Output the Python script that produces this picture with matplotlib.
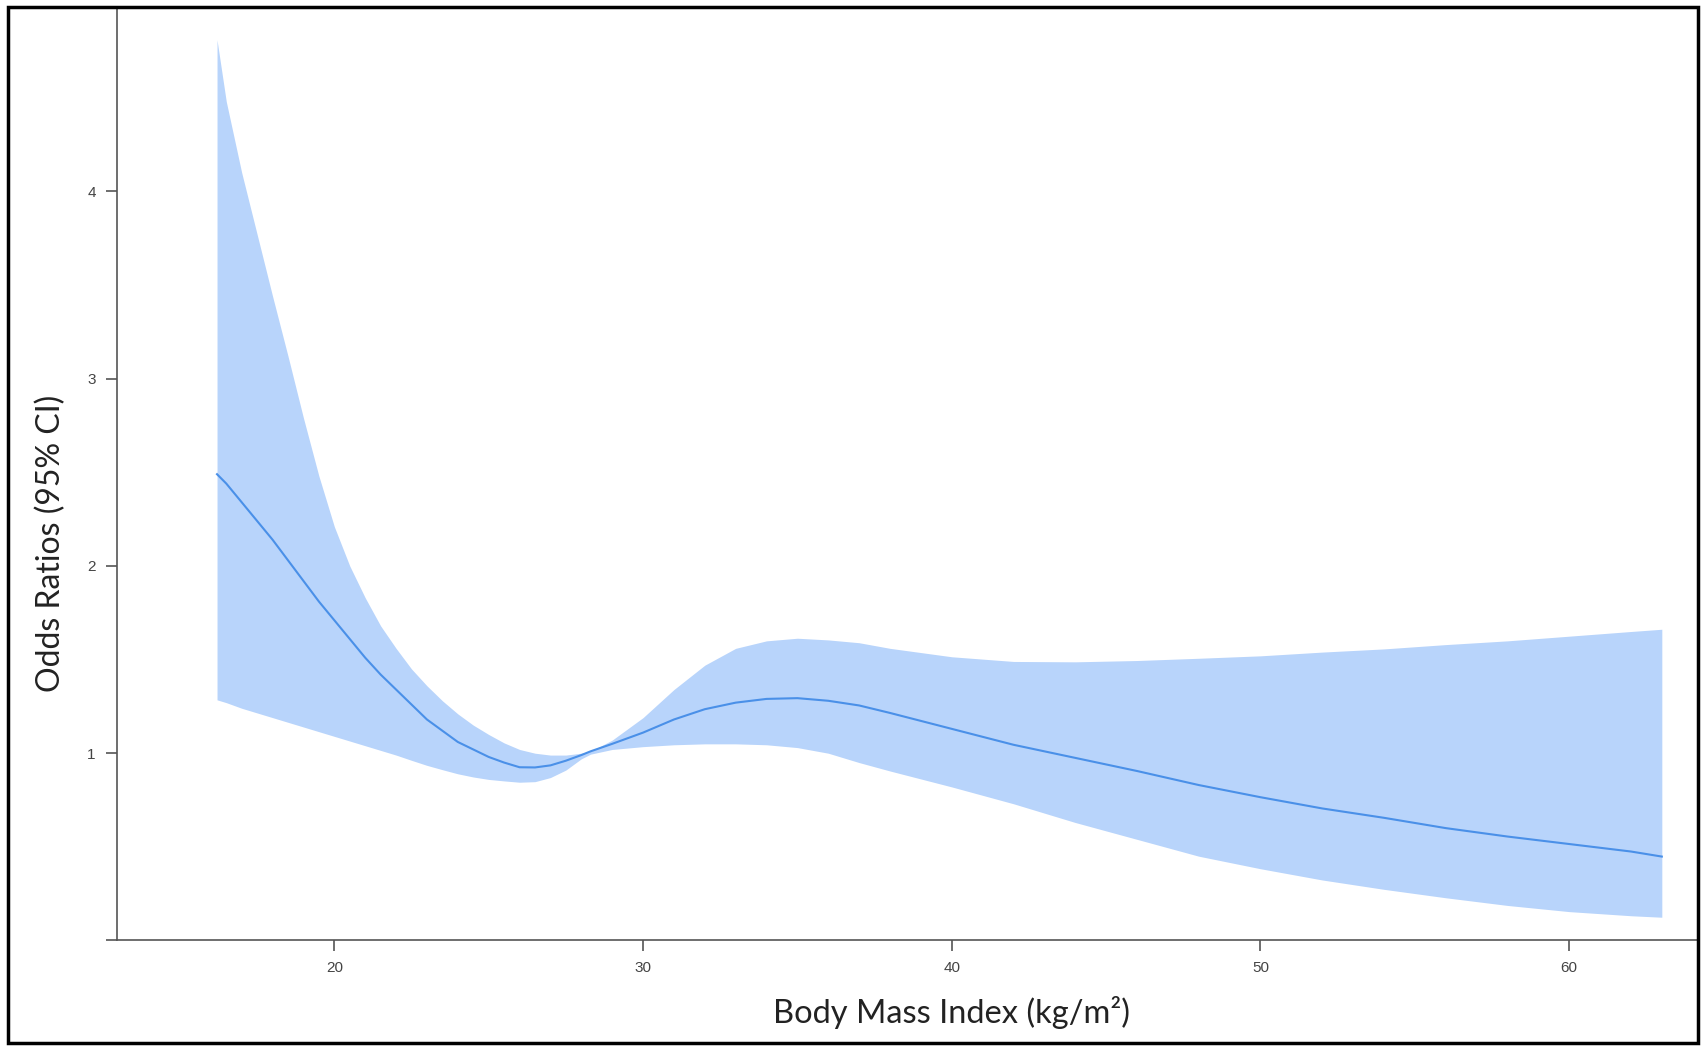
import numpy as np
import matplotlib.pyplot as plt
from matplotlib.patches import Rectangle

# BMI grid and odds ratios
bmi = [16.2, 16.5, 17, 17.5, 18, 18.5, 19, 19.5, 20, 20.5, 21, 21.5, 22, 22.5, 23,
       23.5, 24, 24.5, 25, 25.5, 26, 26.5, 27, 27.5, 28, 28.3, 29, 30, 31, 32, 33,
       34, 35, 36, 37, 38, 40, 42, 44, 46, 48, 50, 52, 54, 56, 58, 60, 62, 63]

or_mid = [2.49, 2.44, 2.34, 2.24, 2.14, 2.03, 1.92, 1.81, 1.71, 1.61, 1.51, 1.42,
          1.34, 1.26, 1.18, 1.12, 1.06, 1.02, 0.98, 0.95, 0.925, 0.924, 0.935,
          0.96, 0.99, 1.01, 1.05, 1.11, 1.18, 1.235, 1.27, 1.29, 1.294, 1.28,
          1.255, 1.215, 1.13, 1.045, 0.975, 0.905, 0.83, 0.765, 0.705, 0.655,
          0.60, 0.555, 0.515, 0.475, 0.448]

or_upper = [4.81, 4.48, 4.10, 3.77, 3.44, 3.12, 2.79, 2.48, 2.21, 2.00, 1.83, 1.68,
            1.56, 1.45, 1.36, 1.28, 1.21, 1.15, 1.10, 1.055, 1.02, 1.0, 0.99, 0.99,
            1.0, 1.01, 1.07, 1.19, 1.34, 1.47, 1.56, 1.60, 1.614, 1.605, 1.59,
            1.56, 1.515, 1.49, 1.488, 1.495, 1.507, 1.52, 1.54, 1.557, 1.58, 1.60,
            1.625, 1.65, 1.662]

or_lower = [1.285, 1.27, 1.24, 1.215, 1.19, 1.165, 1.14, 1.115, 1.09, 1.065, 1.04,
            1.015, 0.99, 0.962, 0.935, 0.912, 0.89, 0.873, 0.86, 0.852, 0.845,
            0.848, 0.87, 0.91, 0.97, 0.995, 1.02, 1.035, 1.045, 1.05, 1.05, 1.045,
            1.03, 1.0, 0.95, 0.905, 0.82, 0.73, 0.63, 0.54, 0.45, 0.383, 0.323,
            0.273, 0.228, 0.187, 0.154, 0.132, 0.124]

x_ticks = [20, 30, 40, 50, 60]
y_ticks = [0, 1, 2, 3, 4]
y_ticklabels = ['', '1', '2', '3', '4']

fig = plt.figure(figsize=(17.01, 10.46), dpi=100)
ax = fig.add_axes([0.0686, 0.1009, 0.9296, 0.8915])

ax.fill_between(bmi, or_lower, or_upper, color='#b8d4fb', linewidth=0)
ax.plot(bmi, or_mid, color='#4a90e8', lw=1.5)

ax.set_xlim(12.95, 64.17)
ax.set_ylim(0, 4.98)

for s in ['top', 'right']:
    ax.spines[s].set_visible(False)
for s in ['left', 'bottom']:
    ax.spines[s].set_color('#555555')
    ax.spines[s].set_linewidth(1.2)

ax.set_xticks(x_ticks)
ax.set_yticks(y_ticks)
ax.set_yticklabels(y_ticklabels)
ax.tick_params(axis='both', colors='#555555', labelcolor='#444444',
               labelsize=11, length=8, width=1.2, pad=7)
for lab in ax.get_xticklabels() + ax.get_yticklabels():
    lab.set_family('Liberation Sans')

ax.set_xlabel('Body Mass Index (kg/m²)', fontsize=23.5, family='Lato', color='#222222')
ax.xaxis.set_label_coords(0.528, -0.06)
ax.set_ylabel('Odds Ratios (95% CI)', fontsize=23, family='Lato', color='#222222')
ax.yaxis.set_label_coords(-0.032, 0.426)

# black frame around the whole picture
fig.patches.append(Rectangle((0.0047, 0.0025), 0.9935, 0.9908, transform=fig.transFigure,
                             fill=False, edgecolor='black', linewidth=2.5))

fig.savefig('out.png', dpi=100)
